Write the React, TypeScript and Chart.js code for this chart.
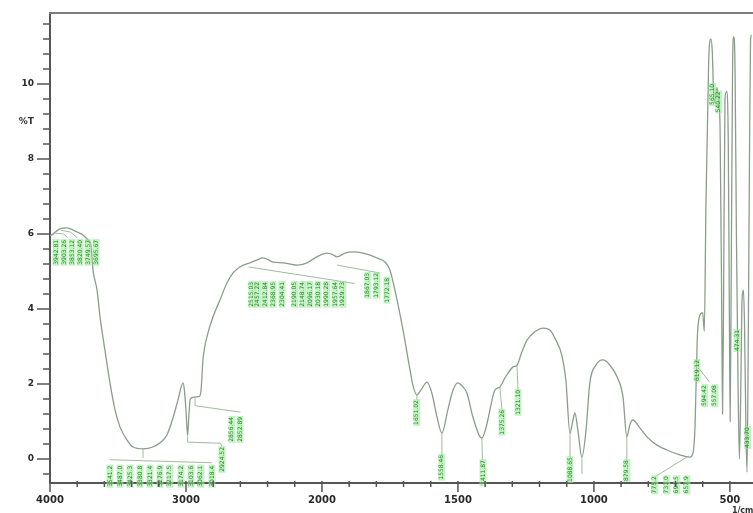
import React, { useEffect, useRef } from 'react';
import { Chart, registerables } from 'chart.js';

Chart.register(...registerables);

// Spectrum: wavenumber (1/cm) and transmittance (%T)
const wavenumbers = [
  4000, 3960, 3920, 3880, 3840, 3800, 3760, 3720, 3700, 3684, 3654, 3632, 3596, 3559, 3522, 3485,
  3434, 3390, 3316, 3243, 3191, 3140, 3096, 3059, 3022, 3012, 3000, 2988, 2978, 2968, 2940, 2905,
  2890, 2875, 2838, 2801, 2750, 2699, 2654, 2603, 2529, 2480, 2434, 2400, 2360, 2287, 2184, 2110,
  2037, 1982, 1960, 1945, 1915, 1886, 1849, 1820, 1798, 1768, 1750, 1724, 1702, 1676, 1665, 1651,
  1635, 1614, 1596, 1577, 1559, 1537, 1518, 1500, 1485, 1467, 1445, 1419, 1412, 1400, 1390, 1364,
  1346, 1327, 1298, 1283, 1265, 1246, 1217, 1187, 1162, 1140, 1118, 1103, 1088, 1077, 1070, 1059,
  1044, 1029, 1015, 993, 967, 941, 915, 893, 879, 868, 857, 831, 805, 768, 732, 684,
  647, 636, 628, 620, 612, 600, 594, 588, 578, 570, 565, 560, 555, 548, 542, 536,
  530, 527, 523, 518, 512, 506, 502, 499, 495, 490, 486, 481, 476, 470, 465, 460,
  455, 450, 446, 441, 437, 433, 428, 424, 420,
];
const transmittance = [
  5.95, 6.05, 6.15, 6.16, 6.12, 6.05, 5.98, 5.84, 5.72, 5.04, 4.5, 3.79, 2.9, 2.03, 1.31, 0.85,
  0.51, 0.32, 0.27, 0.32, 0.43, 0.64, 1.09, 1.57, 2.03, 1.85, 1.3, 0.62, 1.2, 1.6, 1.65, 1.66,
  1.8, 2.64, 3.36, 3.79, 4.24, 4.69, 4.96, 5.12, 5.23, 5.3, 5.36, 5.32, 5.25, 5.23, 5.17, 5.23,
  5.39, 5.49, 5.45, 5.39, 5.49, 5.52, 5.49, 5.43, 5.36, 5.25, 5.04, 4.24, 3.44, 2.37, 1.95, 1.71,
  1.85, 2.05, 1.76, 1.12, 0.69, 1.31, 1.84, 2.03, 1.95, 1.76, 1.12, 0.59, 0.56, 0.75, 1.04, 1.84,
  1.92, 2.16, 2.45, 2.5, 2.85, 3.17, 3.39, 3.49, 3.44, 3.17, 2.77, 2.1, 0.69, 1.04, 1.23, 0.77,
  0.05, 0.77, 2.03, 2.5, 2.64, 2.5, 2.19, 1.65, 0.59, 0.91, 1.04, 0.83, 0.59, 0.37, 0.24, 0.11,
  0.05, 0.15, 0.9, 3.2, 3.8, 3.9, 3.4, 6.8, 10.6, 11.2, 10.9, 9.8, 9.5, 9.9, 9.6, 8.8,
  4.0, 1.2, 4.5, 9.6, 9.8, 8.5, 4.0, 1.0, 5.0, 10.5, 11.25, 10.4, 6.0, 2.0, 0.0, 1.8,
  4.3, 4.5, 3.5, 0.8, -0.35, 2.5, 8.0, 11.2, 11.3,
];

const xMajorTicks = [4000, 3000, 2000, 1500, 1000, 500];
const yMajorTicks = [0, 2, 4, 6, 8, 10];
const yTitle = '%T';
const xUnit = '1/cm';

// Peak annotations: text, wavenumber where the label stands, value at the label's upper end
const labelTexts = [
  '3942.81', '3903.26', '3853.12', '3820.40', '3749.57', '3695.67',
  '3541.2', '3487.0', '3425.3', '3380.8', '3321.4', '3276.9', '3217.5', '3174.2', '3103.6', '3062.1', '3018.4',
  '2924.52', '2856.44', '2852.89',
  '2515.03', '2457.22', '2412.84', '2368.95', '2304.41', '2190.05', '2148.74', '2096.17', '2030.18', '1990.28', '1957.64', '1929.73',
  '1867.03', '1793.12', '1772.18',
  '1651.02', '1558.46', '1411.87', '1375.26', '1321.10', '1088.65', '879.58',
  '775.2', '731.0', '694.5', '657.9',
  '619.12', '594.42', '557.08', '565.10', '540.22', '474.31', '433.70',
];
const labelWavenumbers = [
  3956, 3897, 3838, 3779, 3721, 3662,
  3559, 3485, 3412, 3338, 3265, 3191, 3118, 3037, 2963, 2890, 2809,
  2735, 2662, 2603,
  2515, 2471, 2419, 2360, 2294, 2199, 2140, 2088, 2029, 1982, 1952, 1923,
  1831, 1798, 1761,
  1651, 1559, 1408, 1338, 1279, 1088, 879,
  776, 732, 695, 658,
  621, 592, 555, 563, 541, 474, 434,
];
const labelTops = [
  5.84, 5.84, 5.84, 5.84, 5.84, 5.84,
  -0.18, -0.18, -0.18, -0.18, -0.18, -0.18, -0.18, -0.18, -0.18, -0.18, -0.18,
  0.32, 1.12, 1.12,
  4.72, 4.72, 4.72, 4.72, 4.72, 4.72, 4.72, 4.72, 4.72, 4.72, 4.72, 4.72,
  4.96, 4.96, 4.83,
  1.57, 0.11, -0.03, 1.31, 1.84, 0.05, -0.03,
  -0.46, -0.46, -0.46, -0.46,
  2.64, 1.97, 1.97, 10.0, 9.8, 3.44, 0.85,
];

const leaderLines: number[][][] = [
  [[3990, 5.95], [3960, 6.02], [3900, 6.0], [3870, 5.9]],
  [[3920, 6.1], [3850, 6.05], [3800, 5.9]],
  [[3316, 0.27], [3316, 0.02]],
  [[3560, -0.02], [2809, -0.1]],
  [[2988, 0.6], [2988, 0.45], [2745, 0.42], [2735, 0.33]],
  [[2933, 1.65], [2933, 1.42], [2600, 1.25]],
  [[2540, 5.12], [1880, 4.68]],
  [[1945, 5.17], [1788, 4.96]],
  [[1651, 1.71], [1651, 1.57]],
  [[1559, 0.69], [1559, 0.11]],
  [[1412, 0.56], [1410, -0.03]],
  [[1346, 1.92], [1338, 1.31]],
  [[1283, 2.5], [1279, 1.84]],
  [[1088, 0.69], [1088, 0.05]],
  [[1044, 0.05], [1044, -0.4]],
  [[879, 0.59], [879, -0.03]],
  [[652, 0.08], [770, -0.45]],
  [[612, 2.4], [575, 2.05]],
];

const X_MIN = 0;
const X_MAX = 5.17;
const Y_MIN = -0.64;
const Y_MAX = 11.89;

// Axis compresses 4000-2000 to half scale compared with 2000-400
function wnToPos(wn: number): number {
  return wn >= 2000 ? (4000 - wn) / 1000 : 2 + (2000 - wn) / 500;
}

const decorations = {
  id: 'decorations',
  afterDraw(chart: any) {
    const ctx = chart.ctx as CanvasRenderingContext2D;
    const xs = chart.scales.x;
    const ys = chart.scales.y;
    const area = chart.chartArea;
    ctx.save();

    // leader lines
    ctx.strokeStyle = '#98b098';
    ctx.lineWidth = 0.9;
    leaderLines.forEach((line) => {
      ctx.beginPath();
      line.forEach(([wn, v], i) => {
        const px = xs.getPixelForValue(wnToPos(wn));
        const py = ys.getPixelForValue(v);
        if (i === 0) ctx.moveTo(px, py);
        else ctx.lineTo(px, py);
      });
      ctx.stroke();
    });

    // peak labels (rotated)
    ctx.font = '6px "DejaVu Sans"';
    labelTexts.forEach((t, i) => {
      const px = xs.getPixelForValue(wnToPos(labelWavenumbers[i]));
      const py = ys.getPixelForValue(labelTops[i]);
      ctx.save();
      ctx.translate(px, py);
      ctx.rotate(-Math.PI / 2);
      const w = ctx.measureText(t).width;
      ctx.fillStyle = 'rgba(160,232,160,0.6)';
      ctx.fillRect(-w - 1, -3.5, w + 2, 7);
      ctx.fillStyle = '#1e8a1e';
      ctx.textAlign = 'right';
      ctx.textBaseline = 'middle';
      ctx.fillText(t, 0, 0);
      ctx.restore();
    });

    // top frame line
    ctx.strokeStyle = '#7c7c7c';
    ctx.lineWidth = 2.2;
    ctx.beginPath();
    ctx.moveTo(area.left - 1, area.top);
    ctx.lineTo(chart.width, area.top);
    ctx.stroke();

    // tick marks
    ctx.strokeStyle = '#555';
    ctx.lineWidth = 1.5;
    ctx.beginPath();
    for (let k = 0; k * 0.2 <= X_MAX + 1e-9; k++) {
      const px = xs.getPixelForValue(k * 0.2);
      const major = k % 5 === 0;
      ctx.moveTo(px, area.bottom - 2);
      ctx.lineTo(px, area.bottom + (major ? 9 : 4));
    }
    for (let k = -1; k * 0.4 <= Y_MAX; k++) {
      const py = ys.getPixelForValue(k * 0.4);
      const major = k % 5 === 0;
      ctx.moveTo(area.left - (major ? 13 : 7), py);
      ctx.lineTo(area.left, py);
    }
    ctx.stroke();

    // axis titles
    ctx.fillStyle = '#333';
    ctx.font = 'bold 9px "DejaVu Sans"';
    ctx.textAlign = 'right';
    ctx.textBaseline = 'middle';
    ctx.fillText(yTitle, area.left - 16, ys.getPixelForValue(9));
    ctx.font = 'bold 8px "DejaVu Sans"';
    ctx.textAlign = 'left';
    ctx.textBaseline = 'top';
    ctx.fillText(xUnit, xs.getPixelForValue(wnToPos(500)) + 2, area.bottom + 24);
    ctx.restore();
  },
};

export default function App() {
  const canvasRef = useRef<HTMLCanvasElement | null>(null);

  useEffect(() => {
    if (!canvasRef.current) return;
    const points = wavenumbers.map((w, i) => ({ x: wnToPos(w), y: transmittance[i] }));
    const chart = new Chart(canvasRef.current, {
      type: 'line',
      data: {
        datasets: [
          {
            data: points,
            borderColor: '#8c9c8c',
            borderWidth: 1.3,
            pointRadius: 0,
            fill: false,
            cubicInterpolationMode: 'monotone',
          },
        ],
      },
      options: {
        animation: false,
        responsive: true,
        maintainAspectRatio: false,
        layout: { padding: { top: 13, left: 0, right: 0, bottom: 0 } },
        plugins: { legend: { display: false }, tooltip: { enabled: false } },
        scales: {
          x: {
            type: 'linear',
            min: X_MIN,
            max: X_MAX,
            grid: { display: false, drawTicks: false },
            border: { display: true, color: '#555', width: 2 },
            afterBuildTicks: (s: any) => {
              s.ticks = xMajorTicks.map((w) => ({ value: wnToPos(w) }));
            },
            afterFit: (s: any) => {
              s.height = 30;
              s.paddingLeft = 0;
              s.paddingRight = 0;
            },
            ticks: {
              autoSkip: false,
              maxRotation: 0,
              padding: 11,
              color: '#2a2a2a',
              font: { family: '"DejaVu Sans"', size: 10, weight: 'bold' },
              callback: (_v: any, i: number) => String(xMajorTicks[i]),
            },
          },
          y: {
            type: 'linear',
            min: Y_MIN,
            max: Y_MAX,
            grid: { display: false, drawTicks: false },
            border: { display: true, color: '#555', width: 2 },
            afterBuildTicks: (s: any) => {
              s.ticks = yMajorTicks.map((v) => ({ value: v }));
            },
            afterFit: (s: any) => {
              s.width = 50;
              s.paddingTop = 0;
              s.paddingBottom = 0;
            },
            ticks: {
              autoSkip: false,
              padding: 16,
              color: '#2a2a2a',
              font: { family: '"DejaVu Sans"', size: 9, weight: 'bold' },
              callback: (_v: any, i: number) => String(yMajorTicks[i]),
            },
          },
        },
      },
      plugins: [decorations],
    });
    return () => chart.destroy();
  }, []);

  return (
    <div style={{ position: 'fixed', left: 0, top: 0, width: 753, height: 513, background: '#fff' }}>
      <canvas ref={canvasRef} />
    </div>
  );
}
